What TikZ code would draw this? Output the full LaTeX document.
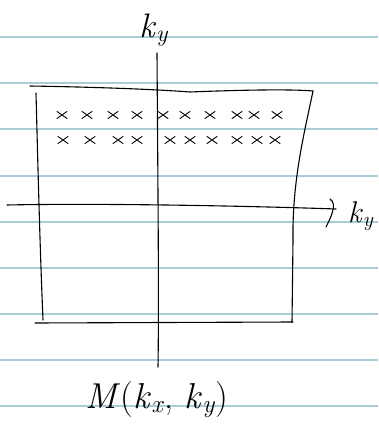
\documentclass[tikz,border=0pt]{standalone}
\usetikzlibrary{calc}
\definecolor{ruleblue}{RGB}{168,205,214}
\newcommand{\kvar}[1]{\textit{k}\textsubscript{\textit{#1}}}
\tikzset{
  x=1pt, y=-1pt,
  pen/.style={line width=1.1pt, line cap=round, line join=round, black},
  ruled/.style={line width=1.2pt, ruleblue},
  lbl/.style={inner sep=0pt, font=\fontsize{34}{34}\selectfont},
  pt/.pic={\draw[pen, line width=0.9pt] (-5,-3.5) -- (5,3.5) (-5,3.5) -- (5,-3.5);}
}
\begin{document}
\begin{tikzpicture}
  \useasboundingbox (0,0) rectangle (378,430);
  \fill[white] (0,0) rectangle (378,430);
  % notebook rulings
  \foreach \yy in {37,83,129,176,222,268,314,360,406}
    \draw[ruled] (0,\yy) -- (378,\yy);
  % sampled region boundary
  \draw[pen] (30,86) .. controls (90,87) and (150,89) .. (190,92)
             .. controls (240,90) and (290,89) .. (313,91);
  \draw[pen] (313,91) .. controls (305,130) and (292,180) .. (293,240)
             -- (292,322);
  \draw[pen] (36,93) .. controls (38,170) and (40,250) .. (43,320);
  \draw[pen] (35,323) -- (293,322);
  % axes
  \coordinate (ytop) at (157,53);
  \coordinate (ybot) at (158,367);
  \coordinate (xl) at (7,205);
  \coordinate (xr) at (336,209);
  \draw[pen] (ytop) .. controls (158,200) and (159,300) .. (ybot);
  \draw[pen] (xl) .. controls (100,203) and (250,206) .. (xr);
  \draw[pen] (xr) ++(-6,-10) .. controls ++(8,5) and ++(4,-8) .. ++(-4,28);
  % axis labels
  \node[lbl] (ky) at (154,30) {\kvar{y}};
  \node[lbl, font=\fontsize{30}{30}\selectfont] (kx) at (361,216) {\kvar{y}};
  \node[lbl, font=\fontsize{36}{36}\selectfont] (m) at (157,400) {\textit{M}(\kvar{x}, \kvar{y})};
  % sample points
  \foreach \xx in {62,87,113,137,163,185,210,237,254,277}
    \pic at (\xx,115) {pt};
  \foreach \xx in {63,90,118,137,170,190,212,237,257,275}
    \pic at (\xx,140) {pt};
\end{tikzpicture}
\end{document}
